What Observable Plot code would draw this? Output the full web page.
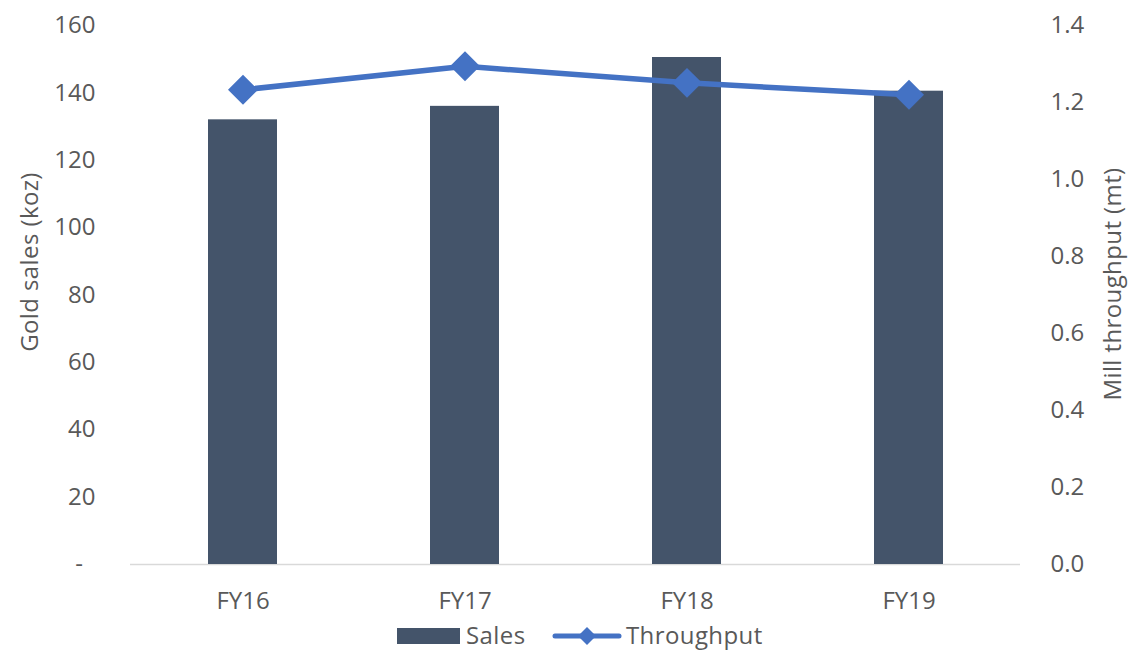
<!DOCTYPE html>
<html>
<head>
<meta charset="utf-8">
<script src="https://cdn.jsdelivr.net/npm/d3@7"></script>
<script src="https://cdn.jsdelivr.net/npm/@observablehq/plot@0.6"></script>
<style>
  html, body { margin: 0; padding: 0; background: #fff; }
  body { width: 1130px; height: 650px; overflow: hidden; font-family: "Open Sans", sans-serif; color: #595959; }
  #legend { position: relative; height: 28px; width: 1130px; font-size: 24px; letter-spacing: 0.4px; }
  #legend .it { position: absolute; top: 0; height: 28px; line-height: 28px; white-space: nowrap; }
</style>
</head>
<body>
<div id="chart"></div>
<div id="legend">
  <div class="it" style="left:397px;top:6px;width:63px;height:16px;background:#44546A"></div>
  <div class="it" style="left:466px;top:-1px">Sales</div>
  <svg class="it" style="left:551px;top:0" width="72" height="28">
    <line x1="4" y1="14" x2="68" y2="14" stroke="#4472C4" stroke-width="5" stroke-linecap="round"/>
    <path d="M36,5 L45,14 L36,23 L27,14 Z" fill="#4472C4"/>
  </svg>
  <div class="it" style="left:626px;top:-1px">Throughput</div>
</div>
<script>
const categories = ["FY16", "FY17", "FY18", "FY19"];
const sales = [132, 136, 150.5, 140.5];
const throughput = [1.233, 1.294, 1.251, 1.220];
const salesTicks = [0, 20, 40, 60, 80, 100, 120, 140, 160];
const throughputTicks = [0, 0.2, 0.4, 0.6, 0.8, 1.0, 1.2, 1.4];
const salesMax = 160, throughputMax = 1.4;
const k = salesMax / throughputMax;

const data = categories.map((c, i) => ({cat: c, sales: sales[i], tp: throughput[i]}));

const plot = Plot.plot({
  width: 1130,
  height: 622,
  marginLeft: 130,
  marginRight: 110,
  marginTop: 25,
  marginBottom: 58,
  style: {fontFamily: "Open Sans", fontSize: "24px", color: "#595959", background: "#fff"},
  x: {domain: categories, paddingInner: 0.69, paddingOuter: 0.345, label: null},
  y: {domain: [0, salesMax], label: null},
  marks: [
    Plot.ruleY([0], {stroke: "#D9D9D9", strokeWidth: 1.5}),
    Plot.barY(data, {x: "cat", y: "sales", fill: "#44546A"}),
    Plot.line(data, {x: "cat", y: d => d.tp * k, stroke: "#4472C4", strokeWidth: 5.5, strokeLinecap: "round"}),
    Plot.dot(data, {x: "cat", y: d => d.tp * k, symbol: "diamond2", r: 13.5, fill: "#4472C4", stroke: null}),
    Plot.axisX({tickSize: 0, tickPadding: 27, label: null}),
    Plot.axisY({ticks: salesTicks, tickSize: 0, tickPadding: 35, label: null,
      tickFormat: d => d === 0 ? "-\u00A0\u00A0" : String(d)}),
    Plot.axisY({anchor: "right", ticks: throughputTicks.map(v => v * k), tickSize: 0, tickPadding: 30, label: null,
      tickFormat: d => (d / k).toFixed(1)})
  ]
});
document.getElementById("chart").appendChild(plot);

const svg = d3.select(plot);
svg.append("text")
  .attr("transform", "translate(28,262) rotate(-90)")
  .attr("text-anchor", "middle").attr("dominant-baseline", "central")
  .attr("fill", "#595959").style("font-size", "24px").style("letter-spacing", "0.4px")
  .text("Gold sales (koz)");
svg.append("text")
  .attr("transform", "translate(1111,284) rotate(-90)")
  .attr("text-anchor", "middle").attr("dominant-baseline", "central")
  .attr("fill", "#595959").style("font-size", "24px").style("letter-spacing", "0.4px")
  .text("Mill throughput (mt)");
</script>
</body>
</html>
